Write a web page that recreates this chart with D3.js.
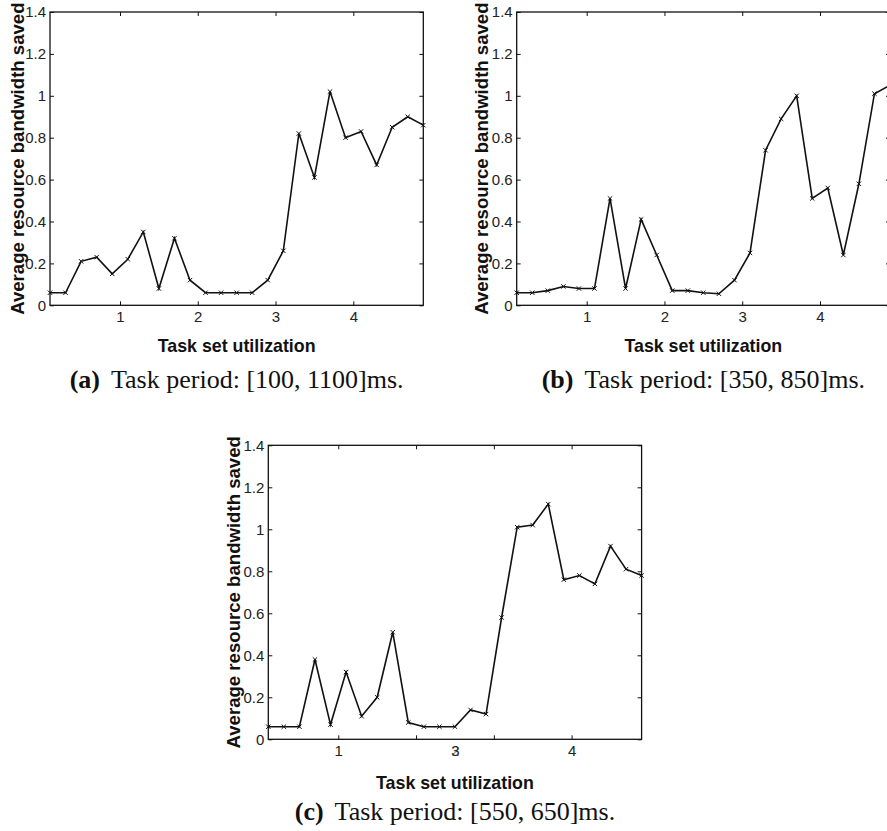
<!DOCTYPE html>
<html lang="en">
<head>
<meta charset="UTF-8">
<title>Average resource bandwidth saved</title>
<script src="https://cdn.jsdelivr.net/npm/d3@7"></script>
<style>
  body, html { margin: 0; padding: 0; background: #fff; }
  svg { display: block; }
  .tick line { stroke: #111; stroke-width: 1; }
  .lab { font-family: "Liberation Sans", Arial, sans-serif; font-weight: bold; fill: #111; }
  .cap { font-family: "Liberation Serif", "Times New Roman", serif; font-size: 26px; fill: #111; }
</style>
</head>
<body>
<div id="chart"></div>
<script>
// datos
const utilization = [0.1, 0.3, 0.5, 0.7, 0.9, 1.1, 1.3, 1.5, 1.7, 1.9, 2.1, 2.3, 2.5,
                     2.7, 2.9, 3.1, 3.3, 3.5, 3.7, 3.9, 4.1, 4.3, 4.5, 4.7, 4.9];
const savedA = [0.06, 0.06, 0.21, 0.23, 0.15, 0.22, 0.35, 0.08, 0.32, 0.12, 0.06, 0.06, 0.06,
                0.06, 0.12, 0.26, 0.82, 0.61, 1.02, 0.80, 0.83, 0.67, 0.85, 0.90, 0.86];
const savedB = [0.06, 0.06, 0.07, 0.09, 0.08, 0.08, 0.51, 0.08, 0.41, 0.24, 0.07, 0.07, 0.06,
                0.055, 0.12, 0.25, 0.74, 0.89, 1.00, 0.51, 0.56, 0.24, 0.58, 1.01, 1.05];
const savedC = [0.06, 0.06, 0.06, 0.38, 0.07, 0.32, 0.11, 0.20, 0.51, 0.08, 0.06, 0.06, 0.06,
                0.14, 0.12, 0.58, 1.01, 1.02, 1.12, 0.76, 0.78, 0.74, 0.92, 0.81, 0.78];
const yTicks = [0, 0.2, 0.4, 0.6, 0.8, 1, 1.2, 1.4];
const xTicks = [1, 2, 3, 4];
// en (c) las etiquetas del eje x salen descolocadas en el original
const xLabelsC = [[1, "1"], [2.5, "3"], [4, "4"]];
const captionTag = ["(a)", "(b)", "(c)"];
const captionText = ["Task period: [100, 1100]ms.", "Task period: [350, 850]ms.", "Task period: [550, 650]ms."];
const yTitle = "Average resource bandwidth saved";
const xTitle = "Task set utilization";

const W = 887, H = 831;
const svg = d3.select("#chart").append("svg").attr("width", W).attr("height", H);

// posicion de cada panel (caja de ejes)
const panels = [
  {left: 50, top: 12, w: 373.3, h: 293.3, data: savedA, xt: 47, cap: 83, yl: 24},
  {left: 516.7, top: 12, w: 373.3, h: 293.3, data: savedB, xt: 47, cap: 83, yl: 488},
  {left: 268.3, top: 445.3, w: 373.3, h: 294, data: savedC, xt: 50, cap: 81, yl: 240}
];

const fmt = d => String(+d.toFixed(1));

function estiloTicks(sel) {
  sel.selectAll(".tick text")
    .attr("font-family", "'Liberation Sans', Arial, sans-serif")
    .attr("font-size", 15).attr("fill", "#222");
}

panels.forEach((p, i) => {
  const x = d3.scaleLinear().domain([0.1, 4.9]).range([0, p.w]);
  const y = d3.scaleLinear().domain([0, 1.4]).range([p.h, 0]);
  const g = svg.append("g").attr("transform", `translate(${p.left},${p.top})`);

  // ejes con ticks hacia dentro, estilo matlab
  g.append("g").call(d3.axisLeft(y).tickValues(yTicks).tickFormat(fmt).tickSizeInner(-4).tickSizeOuter(0).tickPadding(4)).call(estiloTicks);
  g.append("g").attr("transform", `translate(${p.w},0)`)
    .call(d3.axisRight(y).tickValues(yTicks).tickFormat("").tickSizeInner(-4).tickSizeOuter(0));
  g.append("g").call(d3.axisTop(x).tickValues(xTicks).tickFormat("").tickSizeInner(-4).tickSizeOuter(0));
  if (i < 2) {
    g.append("g").attr("transform", `translate(0,${p.h})`)
      .call(d3.axisBottom(x).tickValues(xTicks).tickFormat(d3.format("d")).tickSizeInner(-4).tickSizeOuter(0).tickPadding(6))
      .call(estiloTicks);
  } else {
    g.append("g").attr("transform", `translate(0,${p.h})`)
      .call(d3.axisBottom(x).tickValues(xTicks).tickFormat("").tickSizeInner(-4).tickSizeOuter(0));
    const ax = g.append("g").attr("transform", `translate(0,${p.h})`)
      .call(d3.axisBottom(x).tickValues(xLabelsC.map(d => d[0]))
        .tickFormat((d, k) => xLabelsC[k][1]).tickSize(0).tickPadding(6));
    // el "2" montado debajo del "3"
    ax.selectAll(".tick").filter(d => d === 2.5).append("text")
      .attr("y", 6).attr("dy", "0.71em").attr("opacity", 0.45).text("2");
    ax.call(estiloTicks);
  }
  g.selectAll(".domain").remove();

  g.append("rect").attr("width", p.w).attr("height", p.h)
    .attr("fill", "none").attr("stroke", "#111").attr("stroke-width", 1.3);

  const pts = utilization.map((u, k) => [u, p.data[k]]);
  g.append("path")
    .attr("d", d3.line().x(d => x(d[0])).y(d => y(d[1]))(pts))
    .attr("fill", "none").attr("stroke", "#111").attr("stroke-width", 1.6);

  const s = 2.2;
  g.selectAll(".mk").data(pts).enter().append("path")
    .attr("class", "mk")
    .attr("d", d => {
      const cx = x(d[0]), cy = y(d[1]);
      return `M${cx - s},${cy - s}L${cx + s},${cy + s}M${cx - s},${cy + s}L${cx + s},${cy - s}`;
    })
    .attr("stroke", "#111").attr("stroke-width", 1);

  // titulos de ejes
  svg.append("text").attr("class", "lab").attr("font-size", 18.6)
    .attr("transform", `translate(${p.yl},${p.top + p.h / 2}) rotate(-90)`)
    .attr("text-anchor", "middle").text(yTitle);
  svg.append("text").attr("class", "lab").attr("font-size", 17.8)
    .attr("x", p.left + p.w / 2).attr("y", p.top + p.h + p.xt)
    .attr("text-anchor", "middle").text(xTitle);

  const cap = svg.append("text").attr("class", "cap")
    .attr("x", p.left + p.w / 2).attr("y", p.top + p.h + p.cap)
    .attr("text-anchor", "middle");
  cap.append("tspan").attr("font-weight", "bold").text(captionTag[i]);
  cap.append("tspan").attr("dx", 11).text(captionText[i]);
});
</script>
</body>
</html>
